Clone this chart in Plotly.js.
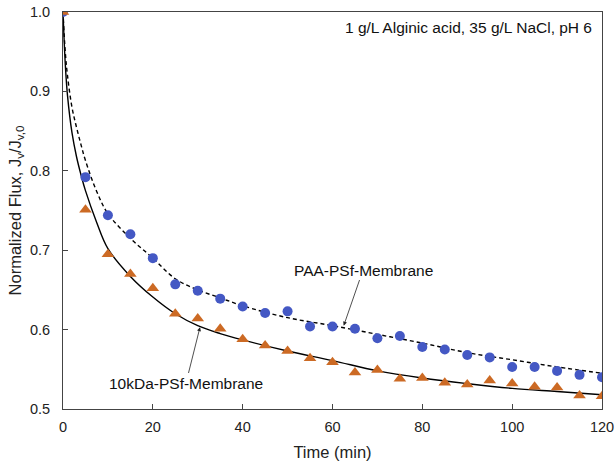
<!DOCTYPE html>
<html>
<head>
<meta charset="utf-8">
<script src="https://cdn.plot.ly/plotly-3.0.1.min.js"></script>
<style>html,body{margin:0;padding:0;background:#fff;}#chart{width:615px;height:464px;}</style>
</head>
<body>
<div id="chart"></div>
<script>
// Measured data
var timeMin = [0,5,10,15,20,25,30,35,40,45,50,55,60,65,70,75,80,85,90,95,100,105,110,115,120];
var paaFlux = [1.0,0.792,0.744,0.720,0.690,0.657,0.649,0.639,0.629,0.621,0.623,0.604,0.604,0.601,0.589,0.592,0.578,0.575,0.568,0.565,0.553,0.553,0.548,0.543,0.540];
var kdaFlux = [1.0,0.751,0.695,0.670,0.652,0.620,0.614,0.601,0.588,0.580,0.573,0.564,0.559,0.546,0.549,0.538,0.539,0.533,0.531,0.536,0.532,0.528,0.527,0.517,0.516];

// Fitted curves
var fitTime = [0,0.5,1,2,3,4,5,7.5,10,15,20,25,30,35,40,50,60,70,80,90,100,110,120];
var paaFit = [1.0,0.950,0.920,0.880,0.855,0.833,0.813,0.774,0.746,0.715,0.690,0.664,0.650,0.640,0.630,0.615,0.605,0.594,0.583,0.571,0.562,0.553,0.545];
var kdaFit = [1.0,0.935,0.895,0.848,0.818,0.795,0.775,0.735,0.702,0.667,0.641,0.620,0.605,0.595,0.587,0.573,0.561,0.548,0.539,0.532,0.526,0.522,0.518];

var xTicks = [0,20,40,60,80,100,120];
var yTicks = [0.5,0.6,0.7,0.8,0.9,1.0];

var traces = [
  {x: fitTime, y: paaFit, mode: 'lines', line: {color: '#000', width: 1.4, dash: '4px,3px', shape: 'spline'}, hoverinfo: 'skip'},
  {x: fitTime, y: kdaFit, mode: 'lines', line: {color: '#000', width: 1.4, shape: 'spline'}, hoverinfo: 'skip'},
  {x: timeMin, y: paaFlux, mode: 'markers', marker: {symbol: 'circle', size: 10, color: '#4458c4'}},
  {x: timeMin, y: kdaFlux, mode: 'markers', marker: {symbol: 'triangle-up', size: 11, color: '#cc6a24'}}
];

var fontFam = 'Liberation Sans, Arial, sans-serif';
var ML = 63, MR = 13, MT = 12, MB = 55, W = 615, H = 464;
function px(xv){ return ML + (xv/120)*(W-ML-MR); }
function py(yv){ return MT + (1.0-yv)/0.5*(H-MT-MB); }

var layout = {
  width: W, height: H,
  margin: {l: ML, r: MR, t: MT, b: MB},
  showlegend: false,
  paper_bgcolor: '#fff', plot_bgcolor: '#fff',
  font: {family: fontFam, size: 14, color: '#222'},
  xaxis: {
    range: [0, 120], tickvals: xTicks, ticks: 'inside', ticklen: 5, tickcolor: '#444',
    ticklabelstandoff: 5,
    showline: true, linecolor: '#444', linewidth: 1, mirror: true, showgrid: false, zeroline: false,
    title: {text: 'Time (min)', font: {size: 16.5, family: fontFam, color: '#222'}, standoff: 12},
    tickfont: {size: 14.5, family: fontFam, color: '#222'}
  },
  yaxis: {
    range: [0.5, 1.0], tickvals: yTicks, tickformat: '.1f', ticks: 'inside', ticklen: 5, tickcolor: '#444',
    ticklabelstandoff: 9,
    showline: true, linecolor: '#444', linewidth: 1, mirror: true, showgrid: false, zeroline: false,
    title: {text: 'Normalized Flux, J<sub>v</sub>/J<sub>v,0</sub>', font: {size: 16.5, family: fontFam, color: '#222'}, standoff: 4},
    tickfont: {size: 14.5, family: fontFam, color: '#222'}
  },
  annotations: [
    {x: 1, y: 1, xref: 'paper', yref: 'paper', xanchor: 'right', yanchor: 'top', xshift: -8, yshift: -5,
     text: '1 g/L Alginic acid, 35 g/L NaCl, pH 6', showarrow: false, font: {size: 15.5, family: fontFam, color: '#111'}},
    {x: 62.5, y: 0.605, xref: 'x', yref: 'y', ax: 363 - px(62.5), ay: 270 - py(0.605),
     text: 'PAA-PSf-Membrane', showarrow: true, arrowhead: 2, arrowsize: 1, arrowwidth: 0.8, arrowcolor: '#222',
     font: {size: 15.5, family: fontFam, color: '#111'}},
    {x: 30.5, y: 0.603, xref: 'x', yref: 'y', ax: 186 - px(30.5), ay: 383 - py(0.603),
     text: '10kDa-PSf-Membrane', showarrow: true, arrowhead: 2, arrowsize: 1, arrowwidth: 0.8, arrowcolor: '#222',
     font: {size: 15.5, family: fontFam, color: '#111'}}
  ]
};

Plotly.newPlot('chart', traces, layout, {staticPlot: true, displayModeBar: false});
</script>
</body>
</html>
